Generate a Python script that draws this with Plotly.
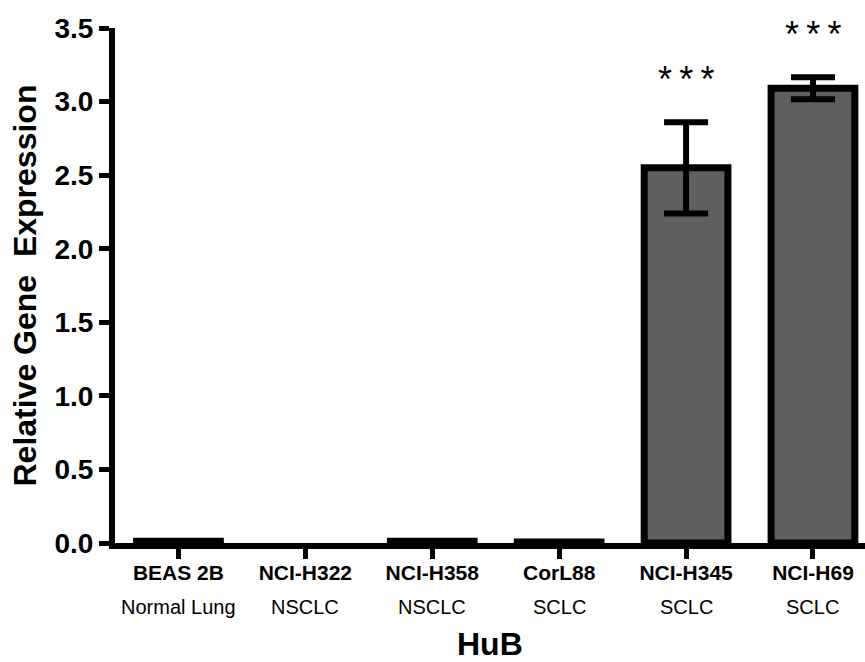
import plotly.graph_objects as go

cells = ["BEAS 2B", "NCI-H322", "NCI-H358", "CorL88", "NCI-H345", "NCI-H69"]
types = ["Normal Lung", "NSCLC", "NSCLC", "SCLC", "SCLC", "SCLC"]
values = [0.012, None, 0.012, 0.006, 2.55, 3.09]
errors = [0.0, 0.0, 0.0, 0.0, 0.31, 0.075]
signif = ["", "", "", "", "***", "***"]
y_ticks = [0.0, 0.5, 1.0, 1.5, 2.0, 2.5, 3.0, 3.5]

FONT = "Liberation Sans, Arial, sans-serif"
xs = list(range(len(cells)))

fig = go.Figure()
fig.add_trace(go.Bar(
    x=xs, y=values, width=0.66,
    marker=dict(color="#5f5f5f", line=dict(color="black", width=7)),
    error_y=dict(type="data", array=errors, visible=True, color="black",
                 thickness=6, width=22),
    showlegend=False,
))

annotations = []
for i, t in enumerate(types):
    annotations.append(dict(x=i, y=0, xref="x", yref="paper", yshift=-64, text=t,
                            showarrow=False, font=dict(family=FONT, size=20, color="black"),
                            yanchor="middle"))
for i, s in enumerate(signif):
    if s:
        annotations.append(dict(x=i, y=values[i] + errors[i], xref="x", yref="y",
                                text="\u2009".join(s),
                                showarrow=False, yshift=43, yanchor="middle",
                                font=dict(family=FONT, size=36, color="black")))
annotations.append(dict(x=0.5, y=0, xref="paper", yref="paper", yshift=-101, text="<b>HuB</b>",
                        showarrow=False, yanchor="middle",
                        font=dict(family=FONT, size=32, color="black")))
annotations.append(dict(x=0, y=0.5, xref="paper", yref="paper", xshift=-91,
                        text="<b>Relative Gene  Expression</b>", textangle=-90,
                        showarrow=False, xanchor="center", yanchor="middle",
                        font=dict(family=FONT, size=32, color="black")))

fig.update_layout(
    width=865, height=662,
    margin=dict(l=115, r=0, t=28, b=119),
    paper_bgcolor="white", plot_bgcolor="white",
    font=dict(family=FONT, color="black"),
    annotations=annotations,
    xaxis=dict(
        range=[-0.5, 5.41], tickmode="array", tickvals=xs,
        ticktext=["<b>%s</b>" % c for c in cells],
        tickfont=dict(family=FONT, size=21, color="black"),
        ticks="outside", ticklen=10, tickwidth=5, tickcolor="black",
        ticklabelstandoff=-4,
        showline=True, linecolor="black", linewidth=6,
        showgrid=False, zeroline=False,
    ),
    yaxis=dict(
        range=[0, 3.5], tickmode="array", tickvals=y_ticks,
        ticktext=["<b>%.1f</b>" % v for v in y_ticks],
        tickfont=dict(family=FONT, size=28, color="black"),
        ticks="outside", ticklen=10, tickwidth=5, tickcolor="black",
        showline=True, linecolor="black", linewidth=6,
        showgrid=False, zeroline=False,
    ),
)

fig.write_html("out.html")
